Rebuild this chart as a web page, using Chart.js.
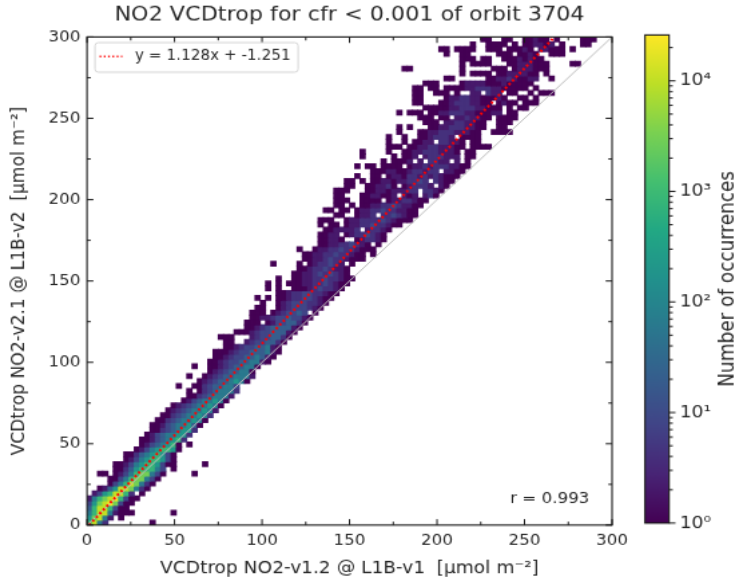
<!DOCTYPE html>
<html><head><meta charset="utf-8">
<style>
html,body{margin:0;padding:0;background:#fff;width:739px;height:581px;overflow:hidden}
canvas{position:absolute;top:0;transform-origin:0 0;transform:scale(1.3363,1.2309)}
#main{left:0;top:2px}#cbar{left:620px}
</style>
<script src="https://cdn.jsdelivr.net/npm/chart.js@4/dist/chart.umd.min.js"></script>
</head><body>
<canvas id="main" width="553" height="472"></canvas>
<canvas id="cbar" width="89" height="472"></canvas>
<script>
const titleText='NO2 VCDtrop for cfr < 0.001 of orbit 3704';
const xLabel='VCDtrop NO2-v1.2 @ L1B-v1  [\u00b5mol m\u207b\u00b2]';
const yLabel='VCDtrop NO2-v2.1 @ L1B-v2  [\u00b5mol m\u207b\u00b2]';
const cbarLabel='Number of occurrences';
const legendText='y = 1.128x + -1.251';
const corrText='r = 0.993';
const binWidth=3;
const fitX=[1.11,267.07], fitY=[0,300];
const identityX=[0,300], identityY=[0,300];
const xMajor=[0,50,100,150,200,250,300], xMinor=[25,75,125,175,225,275];
const cbarDecades=[1,10,100,1000,10000];
const cbarMinor=[2,3,4,5,6,7,8,9,20,30,40,50,60,70,80,90,200,300,400,500,600,700,800,900,2000,3000,4000,5000,6000,7000,8000,9000,20000];
const cbarMax=26000;
const levelCounts={1:1,2:2,3:4,4:8,5:20,6:60,7:200,8:800,9:3000,a:10000,b:25000};
const viridis=['#440154','#482475','#414487','#355f8d','#2a788e','#21918c','#22a884','#44bf70','#7ad151','#bddf26','#fde725'];
// histogram rows, bottom row first: "startBin:levels" with '.' for empty bins
const cellRows=[
"0:8a63 12:1",
"0:79a62 6:1",
"0:68aa62111 16:1",
"0:58aa8411",
"0:479ab9411",
"0:2689ab8411",
"1:2478aa83.1",
"2:1257aa9631",
"4:1468a9631",
"4:1146899641",
"2:11 5:1246899641 20:1",
"5:1135788864.1",
"5:112467887411 22:1",
"7:1246788741",
"7:1135678741",
"9:124678871",
"10:12456781 19:1",
"10:112456783",
"11:124566773",
"12:113456773",
"12:1124566751",
"13:1134566761",
"14:1134566763",
"15:1234566762",
"16:1234566761",
"18:124566761",
"19:113456662",
"19:1.13456663",
"17:1 20:113455664",
"21:1234556761",
"19:1 22:1234556662",
"23:123455661",
"20:1 23:1123455661",
"23:112344556621",
"24:112344556521",
"24:1112344555621",
"26:11234455621",
"26:11 30:23445531",
"25:111 31:23445531",
"28:111234455521",
"30:11234555521",
"30:111.12445531",
"31:112234454421",
"31:111.1234454.1",
"32:11..123444321",
"33:1..1234443321",
"32:1.1.11233443211",
"36:112334433211",
"34:1.1..1112343321",
"34:1.1.111223343211",
"36:1..112233433211",
"39:11223434321",
"40:1123343221",
"35:1 40:1.1233432.1",
"41:112234332111",
"41:112233433211.1",
"40:1..122334332111",
"44:1122334321.1",
"44:11221..123321",
"44:1122.12334321",
"45:1122223.23321",
"44:1.11.12233433211",
"44:111..1223333432111",
"47:11..1223.3343211",
"45:11.11.122334332211",
"47:11.1.112233432211",
"47:111..1111.12233211",
"47:11 52:1122112.212.231",
"47:111 53:1122122233.3321",
"49:11 53:112231.123332.21",
"49:11 52:1 54:11221223343.3211",
"51:1 54:11.12213323232111",
"54:1112211233233.2211",
"51:1 53:11 56:111 59:1.122323332211",
"56:1 58:1112.2.3322.2.1",
"52:1 58:1.112.2333222.11",
"52:1 57:1 60:11223332221.11",
"57:111 61:11223322211.11 75:11",
"57:1 60:1 62:1122.33221.11",
"57:1 60:1 63:1123332.1111",
"59:1 63:112233322211 77:111 80:1",
"59:1 61:1 65:11223332211 78:11",
"64:111.22332211 78:111",
"63:111.11.2232211 78:1111",
"59:1 61:111 65:11223332211122.11",
"64:1111 68:12233322111 80:1.11 83:1",
"62:11 67:1123332211 78:1211.111",
"62:11 68:122332211121 82:11 85:1",
"62:11 66:111 70:1..22.322.11..1 86:111",
"62:11 65:11 68:1111223332211 81:111 85:1",
"64:111 71:1222211121111 84:1",
"68:11 76:1122321122 88:1",
"71:1 73:1111 78:11222211 87:1",
"60:11 71:1 77:111 81:122211 87:1",
"71:1 73:11 75:11 80:11222111 92:11",
"71:111 75:11 79:1112121 86:1",
"68:1 71:11 78:111 82:1121 88:111",
"67:11 70:1111 76:111 80:1112 84:1.22 88:111 92:1",
"73:1 76:1111 81:1.11 84:12212 90:1 94:11",
"75:11 79:11 83:11211 89:1 94:11 96:1"
];
function hex(h){return [1,3,5].map(i=>parseInt(h.substr(i,2),16));}
function viridisAt(t){
  const p=Math.max(0,Math.min(1,t))*(viridis.length-1),i=Math.min(Math.floor(p),viridis.length-2),f=p-i;
  const a=hex(viridis[i]),b=hex(viridis[i+1]);
  return 'rgb('+a.map((v,k)=>Math.round(v+(b[k]-v)*f)).join(',')+')';
}
const cells=[],cellColors=[];
cellRows.forEach((row,r)=>{
  row.split(' ').forEach(seg=>{
    const [start,levels]=seg.split(':');
    [...levels].forEach((ch,k)=>{
      if(ch==='.')return;
      const col=+start+k;
      cells.push({x:(col+0.5)*binWidth,y:[r*binWidth,(r+1)*binWidth+0.1]});
      cellColors.push(viridisAt(Math.log(levelCounts[ch])/Math.log(cbarMax)));
    });
  });
});
const FONT='"DejaVu Sans"';
const INK='#262626';
const frame={
  id:'frame',
  afterDraw(c){
    const {ctx,chartArea:a,scales:{x,y}}=c;
    ctx.save();
    ctx.strokeStyle='#1a1a1a';
    const tick=(list,len)=>{
      ctx.lineWidth=1;
      list.forEach(v=>{
        const px=x.getPixelForValue(v),py=y.getPixelForValue(v);
        ctx.beginPath();
        ctx.moveTo(px,a.bottom);ctx.lineTo(px,a.bottom-len);
        ctx.moveTo(px,a.top);ctx.lineTo(px,a.top+len);
        ctx.moveTo(a.left,py);ctx.lineTo(a.left+len,py);
        ctx.moveTo(a.right,py);ctx.lineTo(a.right-len,py);
        ctx.stroke();
      });
    };
    tick(xMajor,4.8);tick(xMinor,2.8);
    ctx.lineWidth=1.1;
    ctx.strokeRect(a.left,a.top,a.right-a.left,a.bottom-a.top);
    // legend box
    ctx.fillStyle='rgba(255,255,255,0.8)';ctx.strokeStyle='#d5d5d5';ctx.lineWidth=1;
    ctx.beginPath();ctx.roundRect(71.1,33,152,24,2.5);ctx.fill();ctx.stroke();
    ctx.strokeStyle='#ff1010';ctx.lineWidth=1.4;ctx.setLineDash([1.3,1.9]);
    ctx.beginPath();ctx.moveTo(74.5,44.3);ctx.lineTo(91.5,44.3);ctx.stroke();ctx.setLineDash([]);
    ctx.fillStyle=INK;ctx.font='11.4px '+FONT;ctx.textBaseline='middle';ctx.textAlign='left';
    ctx.fillText(legendText,101,44.5);
    ctx.font='12.5px '+FONT;
    ctx.fillText(corrText,381.7,403.8);
    ctx.restore();
  }
};
new Chart(document.getElementById('main'),{
  type:'bar',
  plugins:[frame],
  data:{datasets:[
    {type:'line',data:fitX.map((v,i)=>({x:v,y:fitY[i]})),borderColor:'#ff0000',borderWidth:2,borderDash:[1.8,2.2],pointRadius:0,order:0},
    {type:'line',data:identityX.map((v,i)=>({x:v,y:identityY[i]})),borderColor:'#bdbdbd',borderWidth:1,pointRadius:0,order:1},
    {type:'bar',data:cells,backgroundColor:cellColors,barThickness:4.1,borderWidth:0,order:2}
  ]},
  options:{
    responsive:false,animation:false,
    layout:{padding:{left:0,right:95,top:0,bottom:0}},
    plugins:{legend:{display:false},tooltip:{enabled:false},
      title:{display:true,fullSize:false,text:titleText,color:INK,font:{family:FONT,size:16.67,weight:'normal',lineHeight:1.2},padding:{top:1,bottom:7.4}}},
    scales:{
      x:{type:'linear',offset:false,min:0,max:300,grid:{display:false,drawTicks:false},border:{display:false},
        afterBuildTicks:s=>{s.ticks=xMajor.map(v=>({value:v}));},
        afterFit:s=>{s.height=47.1;},
        ticks:{color:INK,font:{family:FONT,size:12.5},padding:5.5,maxRotation:0},
        title:{display:true,text:xLabel,color:INK,font:{family:FONT,size:13.9},padding:{top:0,bottom:3}}},
      y:{type:'linear',min:0,max:300,grid:{display:false,drawTicks:false},border:{display:false},
        afterBuildTicks:s=>{s.ticks=xMajor.map(v=>({value:v}));},
        afterFit:s=>{s.width=65.1;},
        ticks:{color:INK,font:{family:FONT,size:12.5},padding:5},
        title:{display:true,text:yLabel,color:INK,font:{family:FONT,size:13.9},padding:{top:5.9,bottom:0}}}
    }
  }
});
const cbarFrame={
  id:'cbarFrame',
  afterDraw(c){
    const {ctx,chartArea:a,scales:{y}}=c;
    ctx.save();ctx.strokeStyle='#1a1a1a';ctx.lineWidth=1;
    const tick=(list,len)=>list.forEach(v=>{const p=y.getPixelForValue(v);ctx.beginPath();ctx.moveTo(a.right,p);ctx.lineTo(a.right+len,p);ctx.stroke();});
    tick(cbarDecades,4.8);tick(cbarMinor,2.8);
    ctx.lineWidth=1.1;ctx.strokeRect(a.left,a.top,a.right-a.left,a.bottom-a.top);
    ctx.translate(81.6,(a.top+a.bottom)/2);ctx.rotate(-Math.PI/2);
    ctx.fillStyle=INK;ctx.font='15px '+FONT;ctx.textAlign='center';ctx.textBaseline='middle';
    ctx.fillText(cbarLabel,0,0);
    ctx.restore();
  }
};
const supers='\u2070\u00b9\u00b2\u00b3\u2074';
new Chart(document.getElementById('cbar'),{
  type:'bar',
  plugins:[cbarFrame],
  data:{labels:['count'],datasets:[{
    data:[[1,cbarMax]],
    barPercentage:1,categoryPercentage:1,borderWidth:0,
    backgroundColor:ctx=>{
      const a=ctx.chart.chartArea;if(!a)return viridis[0];
      const g=ctx.chart.ctx.createLinearGradient(0,a.bottom,0,a.top);
      viridis.forEach((h,i)=>g.addColorStop(i/(viridis.length-1),h));
      return g;
    }
  }]},
  options:{
    responsive:false,animation:false,
    layout:{padding:{left:18.7,right:0,top:28.4,bottom:0}},
    plugins:{legend:{display:false},tooltip:{enabled:false}},
    scales:{
      x:{display:true,grid:{display:false,drawTicks:false},border:{display:false},ticks:{display:false},afterFit:s=>{s.height=47.1;}},
      y:{type:'logarithmic',position:'right',min:1,max:cbarMax,grid:{display:false,drawTicks:false},border:{display:false},
        afterBuildTicks:s=>{s.ticks=cbarDecades.map(v=>({value:v}));},
        afterFit:s=>{s.width=52.3;},
        ticks:{color:INK,font:{family:FONT,size:14},padding:8,
          callback:v=>'10'+supers[Math.round(Math.log10(v))]}}
    }
  }
});
</script>
</body></html>
